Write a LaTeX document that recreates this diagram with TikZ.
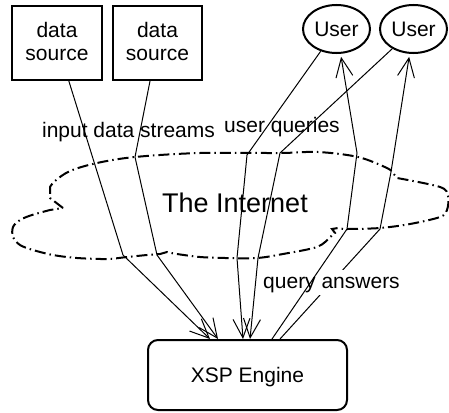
\documentclass[tikz,border=0pt]{standalone}
\usepackage{fontspec}
\setmainfont{Liberation Sans}
\usetikzlibrary{arrows.meta,shapes.geometric}
\begin{document}
\begin{tikzpicture}[x=1pt,y=-1pt,
  lbl/.style={font=\fontsize{21}{23}\selectfont, inner sep=0pt, anchor=base},
  srcbox/.style={draw, line width=2pt, minimum width=90pt, minimum height=74pt, inner sep=0pt, align=center, font=\fontsize{21}{23}\selectfont, text depth=4pt},
  userell/.style={draw, ellipse, line width=2pt, minimum width=67pt, minimum height=48pt, inner sep=0pt, font=\fontsize{21}{23}\selectfont},
  engine/.style={draw, rounded corners=10pt, line width=2pt, minimum width=199pt, minimum height=70pt, inner sep=0pt, font=\fontsize{21}{23}\selectfont, text depth=0pt},
  conn/.style={line width=1pt, -{Straight Barb[length=19pt,width=17pt]}},
  cloudline/.style={line width=2pt, dash pattern=on 11pt off 4pt on 1.5pt off 4pt}
]
\useasboundingbox (0,0) rectangle (449,412);

% nodes
\node[srcbox] (ds1) at (57,43) {data\\source};
\node[srcbox, minimum width=89pt] (ds2) at (157.5,43) {data\\source};
\node[userell] (u1) at (336.5,29) {User};
\node[userell] (u2) at (413.5,29) {User};
\node[engine] (xsp) at (247.5,375) {XSP Engine};

% cloud
\draw[cloudline] (63,208) -- (50,198) -- (50,187)
  -- plot[smooth, tension=0.55] coordinates {(50,187) (55,181) (70,171) (97,163) (135,157) (200,153) (280,153) (318,152) (358,157) (387,168) (393,173)}
  -- (397,178)
  -- plot[smooth, tension=0.55] coordinates {(397,178) (440,187) (448,196) (447,210) (440,217) (410,224) (380,228) (347,229) (338,228)}
  -- (332,229) -- (335,233) -- (329,238)
  -- plot[smooth, tension=0.55] coordinates {(329,238) (317,247) (283,254) (257,258) (225,258) (200,257) (177,254) (167,252)}
  -- (160,254)
  -- plot[smooth, tension=0.55] coordinates {(160,254) (147,255) (127,257) (107,259) (77,258) (53,255) (33,250) (20,245) (13,237) (13,227) (20,220) (32,215) (50,210)}
  -- cycle;

% connector ends on the engine
\coordinate (e1) at ([xshift=-37.5pt]xsp.north);
\coordinate (e2) at ([xshift=-29.5pt]xsp.north);
\coordinate (e3) at ([xshift=-4.5pt]xsp.north);
\coordinate (e4) at ([xshift=2.5pt]xsp.north);
\coordinate (e5) at ([xshift=24.5pt]xsp.north);
\coordinate (e6) at ([xshift=32.5pt]xsp.north);

% bend points at the cloud border
\coordinate (b1) at (123,255);
\coordinate (b2a) at (135,157);
\coordinate (b2b) at (157,255);
\coordinate (b3a) at (247,155);
\coordinate (b3b) at (237,258);
\coordinate (b4a) at (280,153);
\coordinate (b4b) at (258,258);
\coordinate (b5a) at (347,229);
\coordinate (b5b) at (357,153);
\coordinate (b6a) at (380,229);
\coordinate (b6b) at (391,172);

% input data streams
\draw[conn] (ds1) -- (b1) -- (e1);
\draw[conn] (ds2) -- (b2a) -- (b2b) -- (e2);
% user queries
\draw[conn] (u1) -- (b3a) -- (b3b) -- (e3);
\draw[conn] (u2) -- (b4a) -- (b4b) -- (e4);
% query answers
\draw[conn, shorten >=3pt] (e6) -- (b6a) -- (b6b) -- (u2);
\node[lbl, fill=white, inner xsep=1pt, inner ysep=1pt, text height=17pt, text depth=6pt] (l4) at (331.5,288) {query answers};
\draw[conn, shorten >=3pt] (e5) -- (b5a) -- (b5b) -- (u1);

% labels
\node[lbl] (l1) at (128.5,137) {input data streams};
\node[lbl] (l2) at (282,132) {user queries};
\node[lbl, font=\fontsize{27}{30}\selectfont] (l3) at (235,212) {The Internet};
\end{tikzpicture}
\end{document}
